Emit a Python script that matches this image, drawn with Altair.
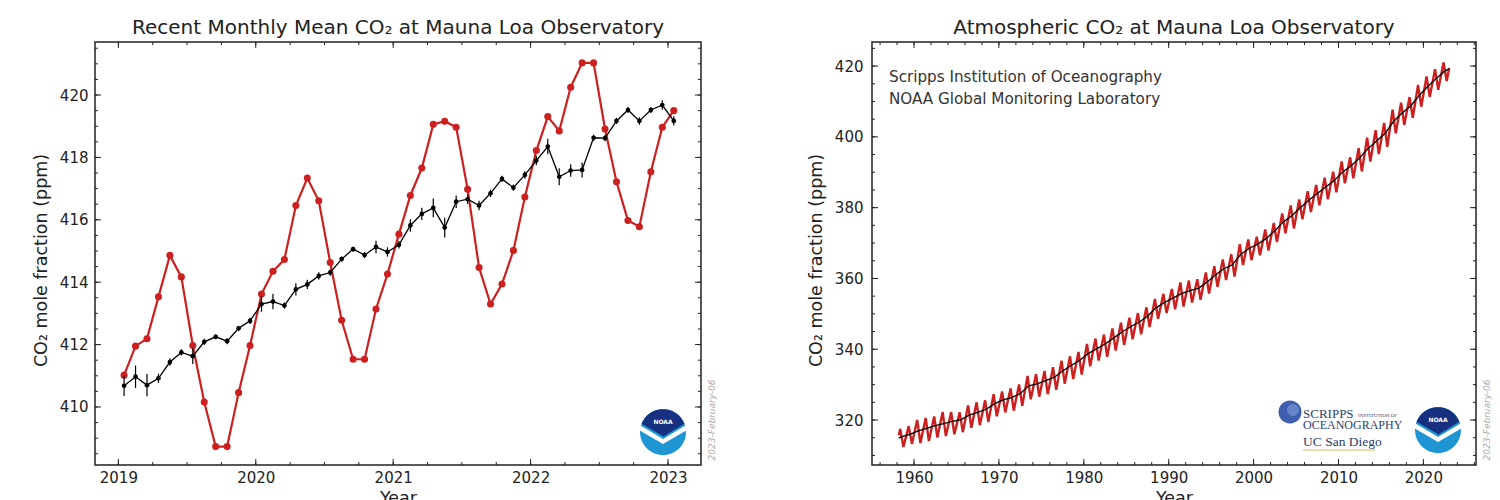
import altair as alt
import pandas as pd

FONT = "DejaVu Sans"
SERIF = "Liberation Serif"
INK = "#222222"
RED = "#cc2020"
NAVY = "#17307f"
SKY = "#1e96d4"

# ---------------- Left panel: recent monthly means (Jan 2019 .. Jan 2023) ----------------
recent_months = [f"{y}-{m:02d}" for y in range(2019, 2023) for m in range(1, 13)] + ["2023-01"]
recent_monthly_mean = [
    411.02, 411.95, 412.19, 413.53, 414.86, 414.17, 411.97, 410.16, 408.73, 408.73, 410.46, 411.97,
    413.62, 414.35, 414.73, 416.46, 417.34, 416.61, 414.63, 412.78, 411.53, 411.53, 413.14, 414.26,
    415.54, 416.78, 417.66, 419.06, 419.16, 418.97, 416.98, 414.47, 413.30, 413.94, 415.02, 416.73,
    418.22, 419.31, 418.85, 420.25, 421.03, 421.03, 418.91, 417.22, 415.98, 415.78, 417.54, 418.97,
    419.50,
]
recent_deseasonalized = [
    410.68, 410.97, 410.70, 410.92, 411.44, 411.75, 411.63, 412.09, 412.25, 412.11, 412.52, 412.76,
    413.30, 413.38, 413.25, 413.77, 413.93, 414.20, 414.31, 414.74, 415.06, 414.87, 415.13, 414.97,
    415.20, 415.82, 416.19, 416.38, 415.75, 416.58, 416.66, 416.46, 416.85, 417.31, 417.03, 417.44,
    417.90, 418.35, 417.38, 417.58, 417.60, 418.63, 418.62, 419.17, 419.52, 419.17, 419.52, 419.68,
    419.17,
]
recent_uncertainty = [
    0.33, 0.36, 0.36, 0.15, 0.12, 0.10, 0.25, 0.10, 0.08, 0.10, 0.08, 0.10,
    0.25, 0.25, 0.10, 0.20, 0.15, 0.12, 0.10, 0.08, 0.08, 0.10, 0.20, 0.15,
    0.12, 0.20, 0.20, 0.30, 0.32, 0.20, 0.15, 0.15, 0.12, 0.10, 0.10, 0.12,
    0.15, 0.25, 0.27, 0.20, 0.24, 0.10, 0.10, 0.10, 0.10, 0.12, 0.10, 0.15,
    0.15,
]
recent_x_ticks = [2019, 2020, 2021, 2022, 2023]
recent_y_ticks = [410, 412, 414, 416, 418, 420]

# ---------------- Right panel: full record (1958 .. 2023) ----------------
record_years = list(range(1958, 2023))
annual_mean = [
    315.23, 315.98, 316.91, 317.64, 318.45, 318.99, 319.62, 320.04, 321.37, 322.18,
    323.05, 324.62, 325.68, 326.32, 327.46, 329.68, 330.19, 331.13, 332.03, 333.84,
    335.41, 336.84, 338.76, 340.12, 341.48, 343.15, 344.87, 346.35, 347.61, 349.31,
    351.69, 353.20, 354.45, 355.70, 356.54, 357.21, 358.96, 360.97, 362.74, 363.88,
    366.84, 368.54, 369.71, 371.32, 373.45, 375.98, 377.70, 379.98, 382.09, 384.02,
    385.83, 387.64, 390.10, 391.85, 394.06, 396.74, 398.81, 401.01, 404.41, 406.76,
    408.72, 411.66, 414.24, 416.45, 418.56,
]
spring_peak = [
    317.51, 318.29, 320.04, 320.58, 321.01, 322.25, 322.25, 322.17, 324.16, 325.00,
    325.57, 327.33, 328.07, 328.92, 330.07, 332.48, 332.95, 333.89, 334.92, 336.75,
    338.01, 339.24, 341.48, 343.01, 344.15, 345.90, 347.50, 348.93, 350.21, 351.84,
    354.22, 355.65, 357.03, 358.85, 359.39, 359.80, 361.68, 363.45, 365.39, 366.82,
    369.68, 371.02, 371.81, 373.82, 375.65, 378.39, 380.60, 382.35, 384.63, 386.40,
    388.49, 390.18, 393.05, 394.21, 396.78, 399.76, 401.88, 403.94, 407.66, 409.65,
    411.24, 414.66, 417.07, 419.13, 420.99,
]
autumn_trough = [
    312.42, 313.26, 313.52, 314.09, 315.06, 315.47, 315.99, 316.58, 317.79, 318.56,
    319.44, 321.07, 322.16, 322.64, 324.05, 325.88, 326.61, 327.30, 328.52, 330.28,
    331.58, 332.85, 335.18, 336.79, 337.86, 339.65, 341.22, 342.82, 344.20, 346.29,
    348.63, 350.22, 351.30, 352.07, 353.22, 353.96, 355.72, 357.64, 359.53, 360.52,
    363.77, 365.16, 366.57, 367.90, 370.32, 372.77, 374.13, 376.75, 378.74, 380.69,
    382.38, 384.37, 386.88, 388.30, 390.23, 393.00, 395.13, 397.21, 401.03, 403.38,
    405.40, 408.53, 411.28, 413.30, 415.78,
]
record_first = ("1958-03", 315.71, 314.90)   # month, monthly mean, trend
record_last = ("2023-01", 419.47, 419.20)
record_x_ticks = [1960, 1970, 1980, 1990, 2000, 2010, 2020]
record_y_ticks = [320, 340, 360, 380, 400, 420]


def dec_year(label):
    y, m = label.split("-")
    return int(y) + (int(m) - 0.5) / 12


# ---------------- tables ----------------
recent = pd.DataFrame({
    "t": [dec_year(s) for s in recent_months],
    "mean": recent_monthly_mean,
    "trend": recent_deseasonalized,
})
recent["lo"] = [v - u for v, u in zip(recent_deseasonalized, recent_uncertainty)]
recent["hi"] = [v + u for v, u in zip(recent_deseasonalized, recent_uncertainty)]

red_rows = [(dec_year(record_first[0]), record_first[1])]
for y, p, q in zip(record_years, spring_peak, autumn_trough):
    red_rows.append((y + dec_year("0-05"), p))
    red_rows.append((y + dec_year("0-10") - 0.04, q))
red_rows.append((dec_year(record_last[0]), record_last[1]))
record_red = pd.DataFrame(red_rows, columns=["t", "v"])

black_rows = [(dec_year(record_first[0]), record_first[2])]
black_rows += [(y + 0.5, v) for y, v in zip(record_years, annual_mean)]
black_rows.append((dec_year(record_last[0]), record_last[2]))
record_black = pd.DataFrame(black_rows, columns=["t", "v"])

# ---------------- geometry ----------------
W1, W2, H = 606, 604, 423
one = pd.DataFrame({"a": [0]})


def ticks_layers(X, Y, W, xmaj, xmin, ymaj, ymin):
    out = []
    for vals, ln in ((xmaj, 6), (xmin, 3)):
        base = alt.Chart(pd.DataFrame({"t": vals})).mark_rule(color=INK, strokeWidth=1)
        out.append(base.encode(x=X("t:Q"), y=alt.value(H), y2=alt.value(H - ln)))
        out.append(base.encode(x=X("t:Q"), y=alt.value(0), y2=alt.value(ln)))
    for vals, ln in ((ymaj, 6), (ymin, 3)):
        base = alt.Chart(pd.DataFrame({"v": vals})).mark_rule(color=INK, strokeWidth=1)
        out.append(base.encode(y=Y("v:Q"), x=alt.value(0), x2=alt.value(ln)))
        out.append(base.encode(y=Y("v:Q"), x=alt.value(W), x2=alt.value(W - ln)))
    return out


CIRCLE = "M -1 0 A 1 1 0 1 1 1 0 A 1 1 0 1 1 -1 0 Z"
DOME = "M -0.93 -0.36 A 1 1 0 0 1 0.93 -0.36 L 0.02 0.2 Z"
GULL = "M -1.1 -0.36 L 0 0.3 L 1.1 -0.36 L 1.1 -0.12 L 0 0.52 L -1.1 -0.12 Z"


def noaa_logo(cx, cy, d=46):
    s = d * d
    pts = []
    for shape, col in ((CIRCLE, SKY), (GULL, "white"), (DOME, NAVY)):
        pts.append(alt.Chart(one).mark_point(shape=shape, filled=True, color=col, opacity=1,
                                             size=s, strokeWidth=0)
                   .encode(x=alt.value(cx), y=alt.value(cy)))
    pts.append(alt.Chart(one).mark_text(text="NOAA", font=FONT, fontSize=6, fontWeight="bold",
                                        color="white")
               .encode(x=alt.value(cx), y=alt.value(cy - 0.42 * d / 2)))
    return pts


def date_stamp(W):
    return alt.Chart(one).mark_text(text="2023-February-06", font=FONT, fontSize=9, fontStyle="italic",
                                    angle=270, color="#aaaaaa").encode(x=alt.value(W + 11), y=alt.value(378))


ytitle = "CO\u2082 mole fraction (ppm)"

# ---------------- left chart ----------------
xs1 = alt.Scale(domain=[2018.83, 2023.24], nice=False, zero=False)
ys1 = alt.Scale(domain=[408.14, 421.70], nice=False, zero=False)
xaxis1 = alt.Axis(values=recent_x_ticks, format="d", title="Year", labelPadding=5, titlePadding=4)
yaxis1 = alt.Axis(values=recent_y_ticks, format="d", title=ytitle, labelPadding=7, titlePadding=9,
                  titleY=218)


def X1(f):
    return alt.X(f, scale=xs1, axis=xaxis1)


def Y1(f):
    return alt.Y(f, scale=ys1, axis=yaxis1)


b1 = alt.Chart(recent)
left_layers = [
    b1.mark_line(color=RED, strokeWidth=2.2).encode(x=X1("t:Q"), y=Y1("mean:Q")),
    b1.mark_circle(color=RED, size=50, opacity=1).encode(x=X1("t:Q"), y=Y1("mean:Q")),
    b1.mark_rule(color="black", strokeWidth=1.2).encode(x=X1("t:Q"), y=Y1("lo:Q"), y2="hi:Q"),
    b1.mark_line(color="black", strokeWidth=1.3).encode(x=X1("t:Q"), y=Y1("trend:Q")),
    b1.mark_circle(color="black", size=22, opacity=1).encode(x=X1("t:Q"), y=Y1("trend:Q")),
]
left_layers += ticks_layers(X1, Y1, W1, recent_x_ticks,
                            [2019 + 0.25 * i for i in range(17)], recent_y_ticks,
                            [408.5 + 0.5 * i for i in range(27)])
left_layers += noaa_logo(W1 - 38, H - 33)
left_layers.append(date_stamp(W1))
left = alt.layer(*left_layers).properties(
    width=W1, height=H,
    title=alt.TitleParams("Recent Monthly Mean CO\u2082 at Mauna Loa Observatory"))

# ---------------- right chart ----------------
xs2 = alt.Scale(domain=[1955.05, 2026.2], nice=False, zero=False)
ys2 = alt.Scale(domain=[307.3, 426.8], nice=False, zero=False)
xaxis2 = alt.Axis(values=record_x_ticks, format="d", title="Year", labelPadding=5, titlePadding=4)
yaxis2 = alt.Axis(values=record_y_ticks, format="d", title=ytitle, labelPadding=9, titlePadding=9,
                  titleY=218)


def X2(f):
    return alt.X(f, scale=xs2, axis=xaxis2)


def Y2(f):
    return alt.Y(f, scale=ys2, axis=yaxis2)


right_layers = [
    alt.Chart(record_red).mark_line(color=RED, strokeWidth=2.4).encode(x=X2("t:Q"), y=Y2("v:Q")),
    alt.Chart(record_black).mark_line(color="black", strokeWidth=1.3).encode(x=X2("t:Q"), y=Y2("v:Q")),
]
right_layers += ticks_layers(X2, Y2, W2, record_x_ticks,
                             [1956 + 2 * i for i in range(36)], record_y_ticks,
                             [310 + 5 * i for i in range(24)])
right_layers += [
    alt.Chart(one).mark_text(text="Scripps Institution of Oceanography", font=FONT, fontSize=15.2,
                             align="left", color="#333333").encode(x=alt.value(17), y=alt.value(35)),
    alt.Chart(one).mark_text(text="NOAA Global Monitoring Laboratory", font=FONT, fontSize=15.2,
                             align="left", color="#333333").encode(x=alt.value(17), y=alt.value(57)),
    # Scripps / UC San Diego logo
    alt.Chart(one).mark_point(shape=CIRCLE, filled=True, color="#3d5fae", opacity=1, size=23 * 23,
                              strokeWidth=0).encode(x=alt.value(418), y=alt.value(370)),
    alt.Chart(one).mark_point(shape=CIRCLE, filled=True, color="#6f8fd0", opacity=0.8, size=12 * 12,
                              strokeWidth=0).encode(x=alt.value(421), y=alt.value(368)),
    alt.Chart(one).mark_text(text="SCRIPPS", font=SERIF, fontSize=13, align="left", baseline="alphabetic",
                             color="#2c3f70").encode(x=alt.value(431), y=alt.value(376)),
    alt.Chart(one).mark_text(text="INSTITUTION OF", font=SERIF, fontSize=5, align="left", baseline="alphabetic",
                             color="#2c3f70").encode(x=alt.value(486), y=alt.value(375)),
    alt.Chart(one).mark_text(text="OCEANOGRAPHY", font=SERIF, fontSize=12, align="left", baseline="alphabetic",
                             color="#2c3f70").encode(x=alt.value(431), y=alt.value(387)),
    alt.Chart(one).mark_text(text="UC San Diego", font=SERIF, fontSize=13.5, align="left", baseline="alphabetic",
                             color="#1f3d6e").encode(x=alt.value(431), y=alt.value(404)),
    alt.Chart(one).mark_rule(color="#d8b860", strokeWidth=1).encode(
        x=alt.value(431), x2=alt.value(503), y=alt.value(408)),
]
right_layers += noaa_logo(W2 - 38, H - 35)
right_layers.append(date_stamp(W2))
right = alt.layer(*right_layers).properties(
    width=W2, height=H,
    title=alt.TitleParams("Atmospheric CO\u2082 at Mauna Loa Observatory"))

chart = alt.hconcat(left, right, spacing=88).properties(
    padding={"left": 31, "top": 16, "right": 5, "bottom": 5},
    background="white",
).configure_view(
    stroke=INK, strokeWidth=1.5
).configure_axis(
    grid=False, ticks=False, domain=False, labelFont=FONT, titleFont=FONT,
    labelColor=INK, titleColor=INK, labelFontSize=15, titleFontSize=17.5, titleFontWeight="normal",
).configure_title(
    font=FONT, fontSize=20, fontWeight="normal", color=INK, offset=4, anchor="middle"
)

chart.save("out.html", embed_options={"renderer": "svg", "actions": False})
